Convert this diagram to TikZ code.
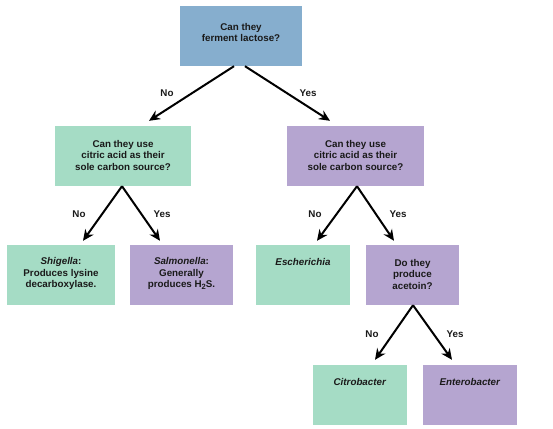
\documentclass[tikz,border=0pt]{standalone}
\usepackage{fontspec}
\setmainfont{Liberation Sans}
\usetikzlibrary{arrows.meta,calc}
\definecolor{blueF}{HTML}{86AECE}
\definecolor{greenF}{HTML}{A5DCC5}
\definecolor{purpleF}{HTML}{B5A5D0}
\definecolor{ink}{HTML}{1A1A1A}
\newcommand{\subtwo}{\raisebox{-0.35ex}{\fontsize{7.6}{8}\selectfont 2}}
\tikzset{
  box/.style={draw=none, inner sep=0pt, minimum height=60pt},
  txt/.style={align=center, text=ink, font=\bfseries\fontsize{9.8}{11.5}\selectfont, inner sep=0pt},
  lbl/.style={text=ink, font=\bfseries\fontsize{9.8}{11.5}\selectfont, inner sep=0pt},
  arr/.style={draw=black, line width=2pt, -{Stealth[length=11pt,width=10pt]}},
}
\begin{document}
\begin{tikzpicture}[x=1pt,y=-1pt]
\useasboundingbox (0,0) rectangle (553,428);
% boxes
\node[box, fill=blueF, minimum width=122pt] (top) at (241,36) {};
\node[box, fill=greenF, minimum width=136pt] (left) at (123,156) {};
\node[box, fill=purpleF, minimum width=137pt] (right) at (355.5,156) {};
\node[box, fill=greenF, minimum width=108pt] (shig) at (61,275) {};
\node[box, fill=purpleF, minimum width=103pt] (salm) at (181.5,275) {};
\node[box, fill=greenF, minimum width=94pt] (esch) at (303,275) {};
\node[box, fill=purpleF, minimum width=93pt] (acet) at (412.5,275) {};
\node[box, fill=greenF, minimum width=94pt] (citro) at (360,395) {};
\node[box, fill=purpleF, minimum width=94pt] (entero) at (470,395) {};
% texts
\node[txt] (ttop) at ($(top.center)+(0,-3.5)$) {Can they\\ferment lactose?};
\node[txt] (tleft) at ($(left.center)+(0,-1)$) {Can they use\\citric acid as their\\sole carbon source?};
\node[txt] (tright) at ($(right.center)+(0,-1)$) {Can they use\\citric acid as their\\sole carbon source?};
\node[txt] (tshig) at ($(shig.center)+(0,-1.5)$) {\textit{Shigella}:\\Produces lysine\\decarboxylase.};
\node[txt] (tsalm) at ($(salm.center)+(0,-1.5)$) {\textit{Salmonella}:\\Generally\\produces H\subtwo S.};
\node[txt] (tesch) at ($(esch.center)+(0,-13)$) {\textit{Escherichia}};
\node[txt] (tacet) at ($(acet.center)+(0,-1)$) {Do they\\produce\\acetoin?};
\node[txt] (tcitro) at ($(citro.center)+(0,-13)$) {\textit{Citrobacter}};
\node[txt] (tentero) at ($(entero.center)+(0,-13)$) {\textit{Enterobacter}};
% arrows
\draw[arr] ($(top.south)+(-7,0)$) -- ($(left.north)+(26,-5)$);
\draw[arr] ($(top.south)+(4,0)$) -- ($(right.north)+(-25.5,-5)$);
\draw[arr] ($(left.south)+(-1,0)$) -- ($(shig.north)+(22,-4)$);
\draw[arr] ($(left.south)+(-1,0)$) -- ($(salm.north)+(-21.5,-4)$);
\draw[arr] ($(right.south)+(1.5,0)$) -- ($(esch.north)+(14,-4)$);
\draw[arr] ($(right.south)+(1.5,0)$) -- ($(acet.north)+(-18.5,-4)$);
\draw[arr] ($(acet.south)+(0.5,0)$) -- ($(citro.north)+(15,-5)$);
\draw[arr] ($(acet.south)+(0.5,0)$) -- ($(entero.north)+(-18,-5)$);
% labels
\node[lbl] (l1) at (167,93) {No};
\node[lbl] (l2) at (308,93) {Yes};
\node[lbl] (l3) at (79,214) {No};
\node[lbl] (l4) at (162,214) {Yes};
\node[lbl] (l5) at (315,214) {No};
\node[lbl] (l6) at (398,214) {Yes};
\node[lbl] (l7) at (372,334) {No};
\node[lbl] (l8) at (455,334) {Yes};
\end{tikzpicture}
\end{document}
